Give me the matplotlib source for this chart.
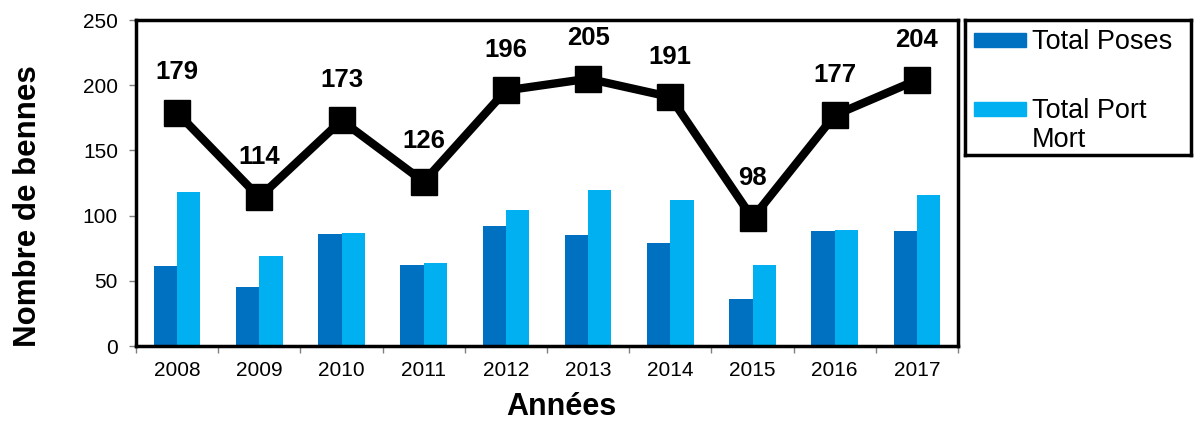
import numpy as np
import matplotlib
matplotlib.use("Agg")
import matplotlib.pyplot as plt
from matplotlib.patches import Rectangle

# ----------------------------
# Data
# ----------------------------
years = ["2008", "2009", "2010", "2011", "2012", "2013", "2014", "2015", "2016", "2017"]
total_poses = [61, 45, 86, 62, 92, 85, 79, 36, 88, 88]
total_port_mort = [118, 69, 87, 64, 104, 120, 112, 62, 89, 116]
total = [179, 114, 173, 126, 196, 205, 191, 98, 177, 204]

series_names = ["Total Poses", "Total Port\nMort"]
colors = ["#0070C0", "#00B0F0"]

plt.rcParams["font.family"] = ["Liberation Sans", "DejaVu Sans"]

# ----------------------------
# Figure
# ----------------------------
fig = plt.figure(figsize=(11.95, 4.21), dpi=100)
ax = fig.add_axes([0.1138, 0.1781, 0.6879, 0.7743])

x = np.arange(len(years))
w = 0.284
ax.bar(x - w / 2, total_poses, width=w, color=colors[0], zorder=2)
ax.bar(x + w / 2, total_port_mort, width=w, color=colors[1], zorder=2)

ax.plot(x, total, color="black", linewidth=6, marker="s", markersize=19,
        zorder=3, clip_on=False)
for xi, v in zip(x, total):
    ax.annotate(str(v), (xi, v), xytext=(0, 29), textcoords="offset points",
                ha="center", va="center", fontsize=18.5, fontweight="bold")

ax.set_xlim(-0.5, len(years) - 0.5)
ax.set_ylim(0, 250)
ax.set_yticks(np.arange(0, 251, 50))
ax.set_xticks(x)
ax.set_xticklabels(years)
ax.set_xticks(np.arange(-0.5, len(years)), minor=True)

ax.tick_params(axis="x", which="major", length=0, pad=11, labelsize=15)
ax.tick_params(axis="x", which="minor", length=5, width=1, color="#808080",
               direction="out")
ax.tick_params(axis="y", length=5, width=1, color="#808080", pad=8,
               labelsize=15)

for s in ax.spines.values():
    s.set_linewidth(2.5)
    s.set_color("black")

ax.set_ylabel("Nombre de bennes", fontsize=22.5, fontweight="bold")
ax.yaxis.set_label_coords(-0.131, 0.43)
ax.yaxis.label.set_va("center")
ax.set_xlabel("Années", fontsize=22, fontweight="bold")
ax.xaxis.set_label_coords(0.517, -0.187)
ax.xaxis.label.set_va("center")

# ----------------------------
# Legend box (drawn by hand to match the layout)
# ----------------------------
lax = fig.add_axes([0.8075, 0.6318, 0.189, 0.3207])
lax.set_xlim(0, 1)
lax.set_ylim(0, 1)
lax.set_xticks([])
lax.set_yticks([])
for s in lax.spines.values():
    s.set_linewidth(2.5)
    s.set_color("black")

rows = [0.85, 0.34]
for name, c, yy in zip(series_names, colors, rows):
    lax.add_patch(Rectangle((0.04, yy - 0.05), 0.23, 0.10, color=c))
    lax.text(0.295, yy + 0.08, name, fontsize=19.5, va="top", ha="left",
             linespacing=1.15)

fig.savefig("out.png", dpi=100)
